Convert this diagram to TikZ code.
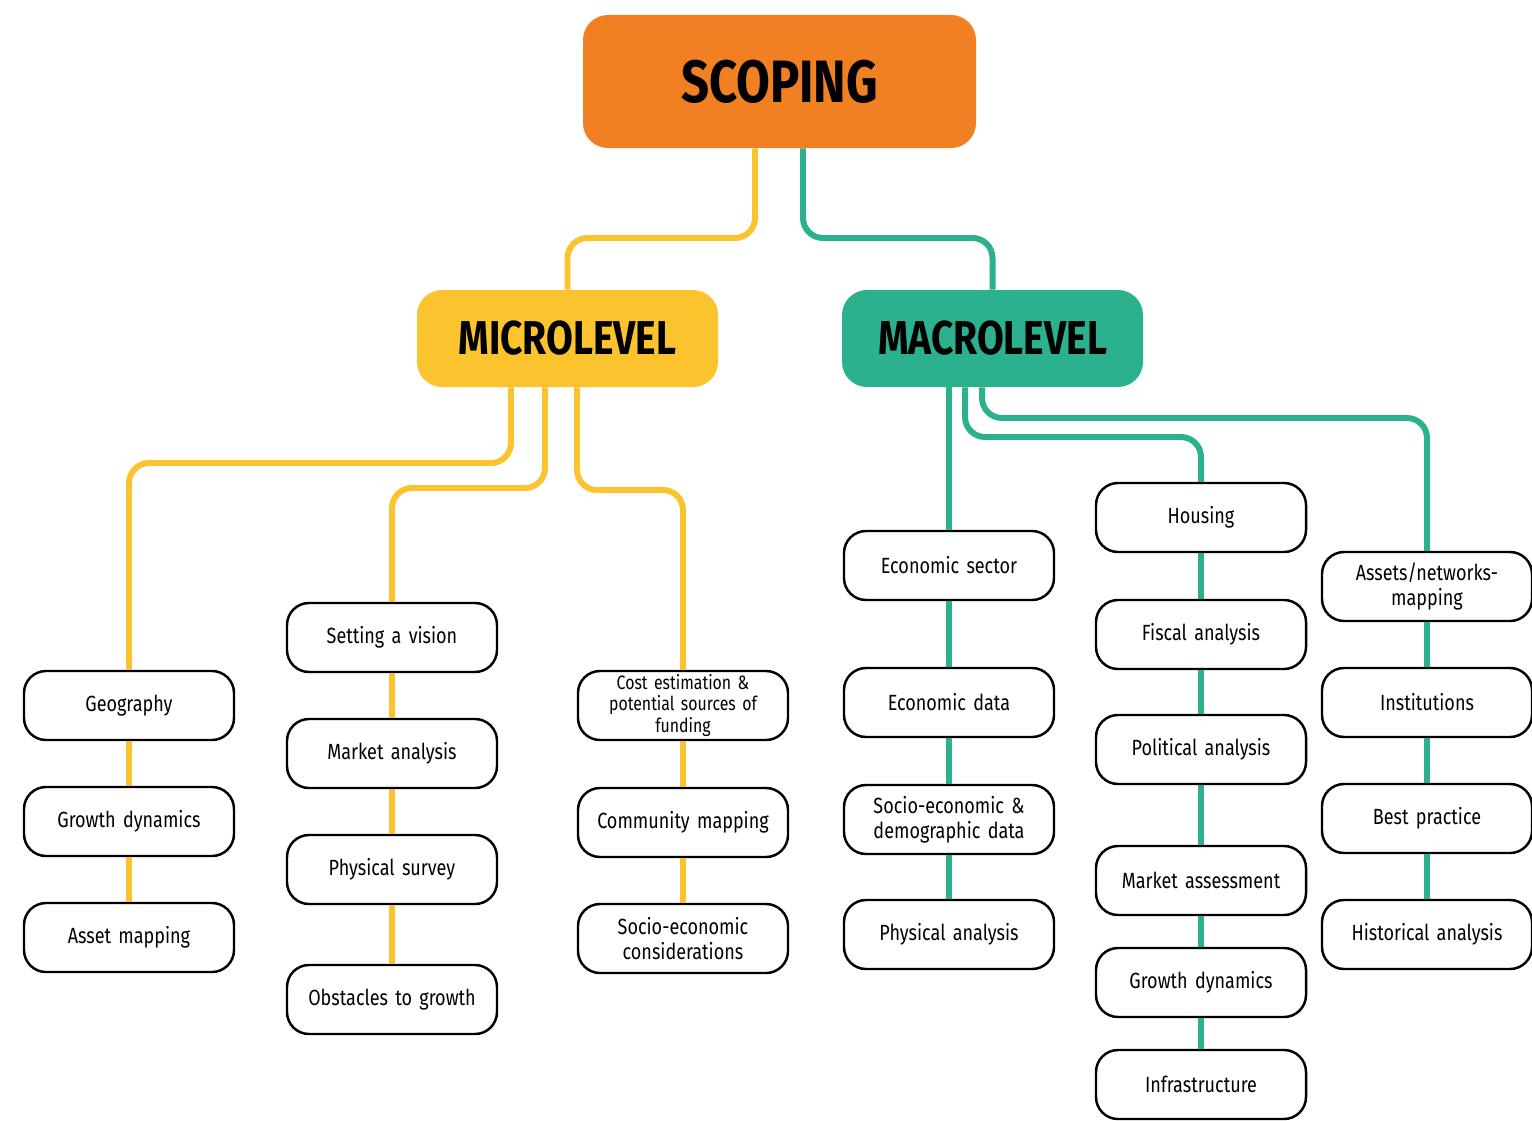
\documentclass[tikz,border=0pt]{standalone}
\usepackage{fontspec}
\setmainfont[FakeStretch=0.82]{Fira Sans}
\definecolor{scopeorange}{HTML}{F08022}
\definecolor{microyellow}{HTML}{FBC32D}
\definecolor{macroteal}{HTML}{2CB18F}
\begin{document}
\begin{tikzpicture}[
	x=0.2mm, y=-0.2mm,
	topbox/.style={shape=rectangle, rounded corners=5mm, minimum width=78.6mm, minimum height=26.6mm, font=\fontsize{34}{36}\selectfont\bfseries},
	levelbox/.style={shape=rectangle, rounded corners=5mm, minimum width=60.2mm, minimum height=19.4mm, font=\fontsize{27}{29}\selectfont\bfseries},
	itembox/.style={shape=rectangle, draw=black, line width=1.4pt, fill=white, rounded corners=4.4mm, minimum width=42mm, minimum height=13.8mm, text width=38mm, align=center, inner sep=0pt, font=\fontsize{12.5}{14}\selectfont},
	yline/.style={draw=microyellow, line width=3.4pt, rounded corners=4mm},
	tline/.style={draw=macroteal, line width=3.4pt, rounded corners=4mm},
]
\useasboundingbox (0,0) rectangle (1532,1120);

% main boxes
\node[topbox, fill=scopeorange] (scoping) at (779.5,81.5) {SCOPING};
\node[levelbox, fill=microyellow] (micro) at (567.5,338.5) {MICROLEVEL};
\node[levelbox, fill=macroteal] (macro) at (992.5,338.5) {MACROLEVEL};

% microlevel
\node[itembox] (geo) at (129,705.5) {Geography};
\node[itembox] (growthmicro) at (129,821.5) {Growth dynamics};
\node[itembox] (assetmap) at (129,937.5) {Asset mapping};
\node[itembox] (vision) at (392,637.5) {Setting a vision};
\node[itembox] (marketan) at (392,753.5) {Market analysis};
\node[itembox] (physsurvey) at (392,869.5) {Physical survey};
\node[itembox] (obstacles) at (392,999.5) {Obstacles to growth};
\node[itembox, font=\fontsize{11}{12.5}\selectfont] (cost) at (683,705.5) {Cost estimation \&\\potential sources of\\funding};
\node[itembox] (community) at (683,822.5) {Community mapping};
\node[itembox] (socioecon) at (683,938.5) {Socio-economic\\considerations};

% macrolevel
\node[itembox] (econsector) at (949,565.5) {Economic sector};
\node[itembox] (econdata) at (949,702.5) {Economic data};
\node[itembox] (sociodemo) at (949,819.5) {Socio-economic \&\\demographic data};
\node[itembox] (physan) at (949,934.5) {Physical analysis};
\node[itembox] (housing) at (1201,517.5) {Housing};
\node[itembox] (fiscal) at (1201,634.5) {Fiscal analysis};
\node[itembox] (political) at (1201,749.5) {Political analysis};
\node[itembox] (marketassess) at (1201,880.5) {Market assessment};
\node[itembox] (growthmacro) at (1201,982.5) {Growth dynamics};
\node[itembox] (infra) at (1201,1084.5) {Infrastructure};
\node[itembox] (assets) at (1427,586.5) {Assets/networks-\\mapping};
\node[itembox] (institutions) at (1427,702.5) {Institutions};
\node[itembox] (bestpractice) at (1427,818.5) {Best practice};
\node[itembox] (historical) at (1427,934.5) {Historical analysis};

% branches
\draw[yline] (scoping.south -| 755,0) -- (755,238) -| (micro.north);
\draw[tline] (scoping.south -| 803,0) -- (803,238) -| (macro.north);
\draw[yline] (micro.south -| 511,0) -- (511,463) -| (geo.north);
\draw[yline] (micro.south -| 545,0) -- (545,488) -| (vision.north);
\draw[yline] (micro.south -| 577,0) -- (577,490) -| (cost.north);
\draw[tline] (macro.south -| 949,0) -- (econsector.north);
\draw[tline] (macro.south -| 965,0) -- (965,437) -| (housing.north);
\draw[tline] (macro.south -| 982,0) -- (982,418) -| (assets.north);

% columns
\draw[yline] (geo.south) -- (growthmicro.north);
\draw[yline] (growthmicro.south) -- (assetmap.north);
\draw[yline] (vision.south) -- (marketan.north);
\draw[yline] (marketan.south) -- (physsurvey.north);
\draw[yline] (physsurvey.south) -- (obstacles.north);
\draw[yline] (cost.south) -- (community.north);
\draw[yline] (community.south) -- (socioecon.north);
\draw[tline] (econsector.south) -- (econdata.north);
\draw[tline] (econdata.south) -- (sociodemo.north);
\draw[tline] (sociodemo.south) -- (physan.north);
\draw[tline] (housing.south) -- (fiscal.north);
\draw[tline] (fiscal.south) -- (political.north);
\draw[tline] (political.south) -- (marketassess.north);
\draw[tline] (marketassess.south) -- (growthmacro.north);
\draw[tline] (growthmacro.south) -- (infra.north);
\draw[tline] (assets.south) -- (institutions.north);
\draw[tline] (institutions.south) -- (bestpractice.north);
\draw[tline] (bestpractice.south) -- (historical.north);
\end{tikzpicture}
\end{document}
